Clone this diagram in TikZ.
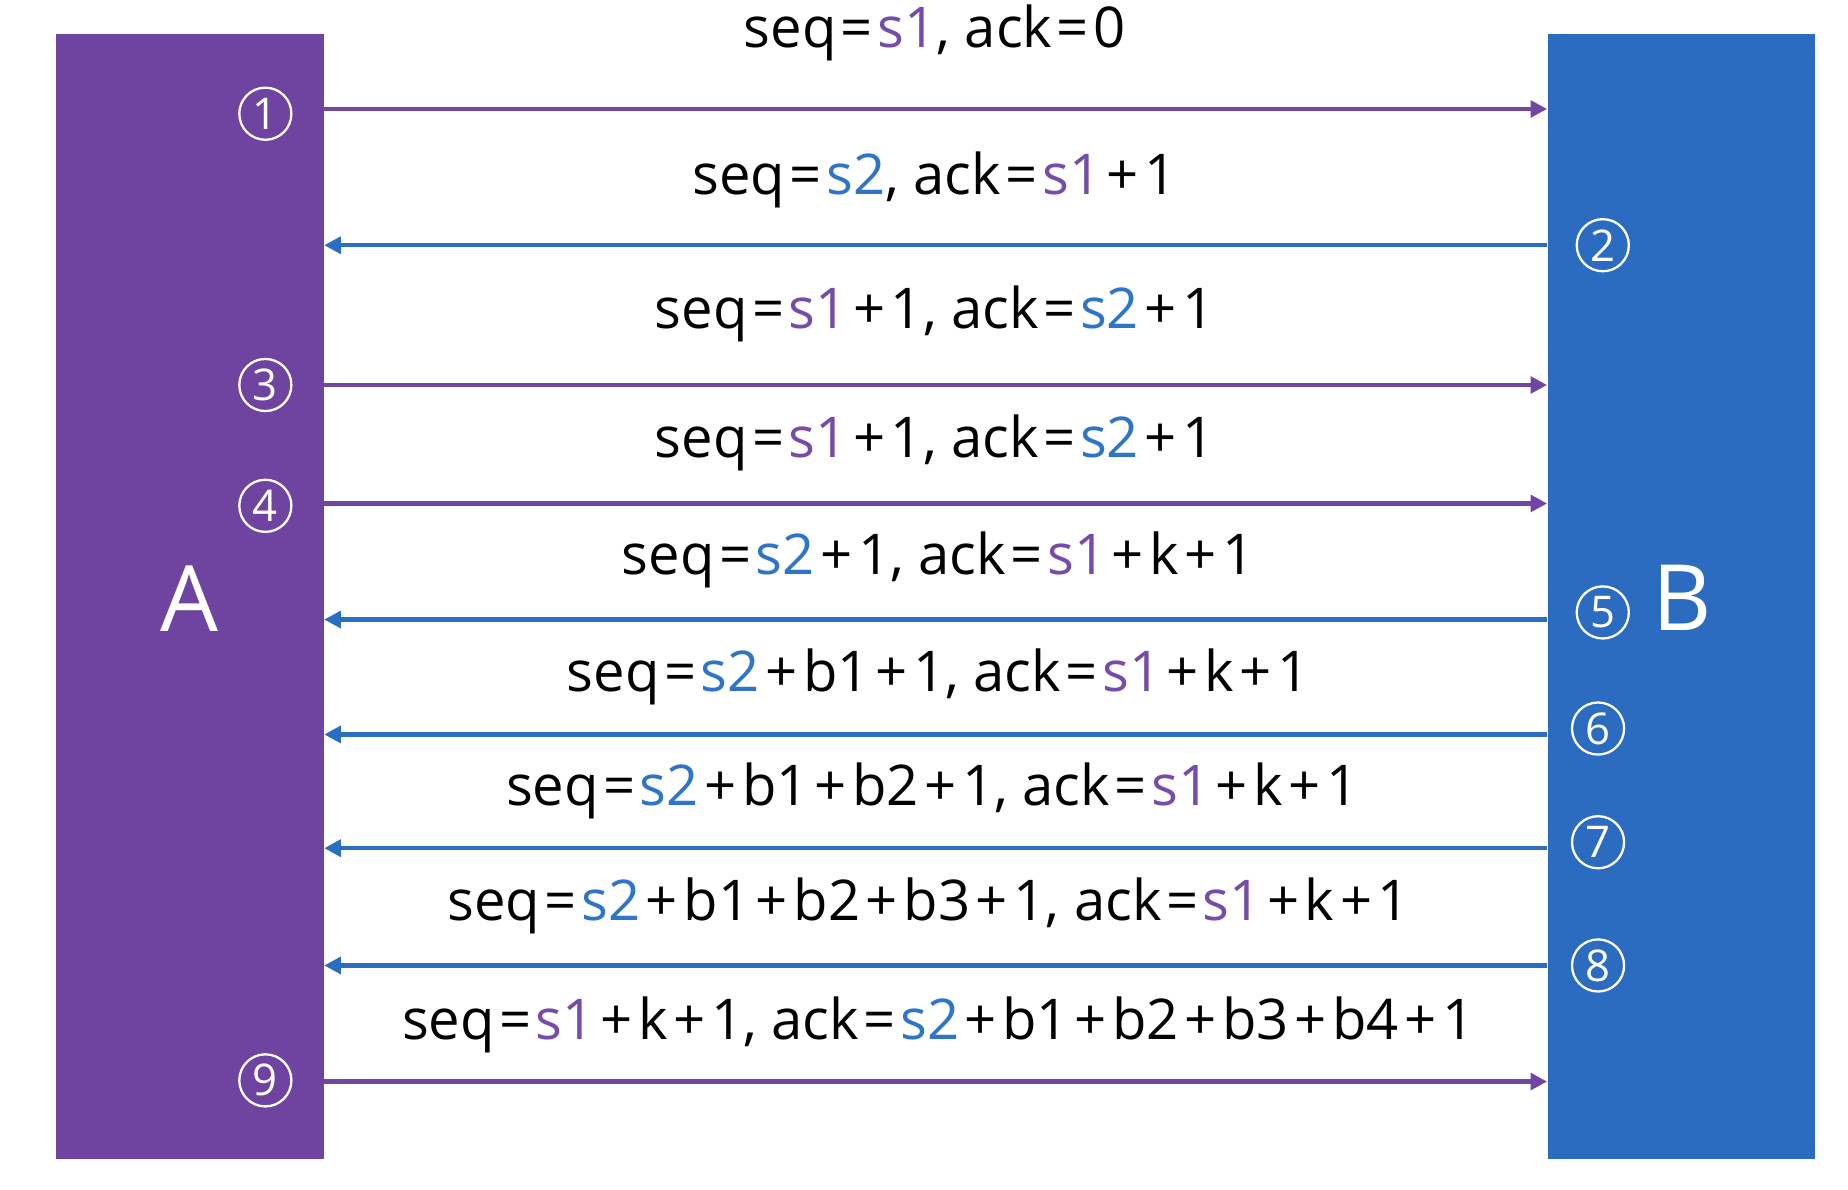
\documentclass[tikz,border=0pt]{standalone}
\usepackage{fontspec}
\setmainfont{Open Sans}
\usetikzlibrary{arrows.meta}
\definecolor{boxA}{RGB}{111,67,160}
\definecolor{boxB}{RGB}{43,108,192}
\definecolor{arrA}{RGB}{112,70,162}
\definecolor{arrB}{RGB}{40,110,195}
\definecolor{cone}{RGB}{118,76,170}
\definecolor{ctwo}{RGB}{46,117,200}
\newcommand\sone{\textcolor{cone}{s1}}
\newcommand\stwo{\textcolor{ctwo}{s2}}
\newcommand\pl{\kern.1em+\kern.1em}
\newcommand\eq{\kern.08em=\kern.08em}
\begin{document}
\begin{tikzpicture}[x=0.02cm,y=-0.02cm,
  host/.style={rectangle,inner sep=0pt,minimum width=4.52cm,minimum height=19cm,anchor=north west},
  msgA/.style={draw=arrA,line width=2pt,-{Triangle[length=0.28cm,width=0.28cm]}},
  msgB/.style={draw=arrB,line width=2pt,-{Triangle[length=0.28cm,width=0.28cm]}},
  lbl/.style={font=\fontsize{27}{32}\selectfont,text=black,inner sep=0pt},
  num/.style={circle,draw=white,line width=1.1pt,text=white,minimum size=0.88cm,inner sep=0pt,font=\fontsize{21}{22}\selectfont},
  big/.style={text=white,font=\fontsize{44}{48}\selectfont,inner sep=0pt}]
\useasboundingbox (0,0) rectangle (1560,1004.5);
\node[host,fill=boxA] (A) at (47,28) {};
\node[host,fill=boxB] (B) at (1306,28) {};
\node[big] (Al) at (160,505) {A};
\node[big] (Bl) at (1420,505) {B};
% message rows
\coordinate (r1) at (0,92);
\coordinate (r2) at (0,207);
\coordinate (r3) at (0,325);
\coordinate (r4) at (0,425);
\coordinate (r5) at (0,523);
\coordinate (r6) at (0,620);
\coordinate (r7) at (0,716);
\coordinate (r8) at (0,815);
\coordinate (r9) at (0,913);
\draw[msgA] (A.east |- r1) -- (B.west |- r1);
\draw[msgB] (B.west |- r2) -- (A.east |- r2);
\draw[msgA] (A.east |- r3) -- (B.west |- r3);
\draw[msgA] (A.east |- r4) -- (B.west |- r4);
\draw[msgB] (B.west |- r5) -- (A.east |- r5);
\draw[msgB] (B.west |- r6) -- (A.east |- r6);
\draw[msgB] (B.west |- r7) -- (A.east |- r7);
\draw[msgB] (B.west |- r8) -- (A.east |- r8);
\draw[msgA] (A.east |- r9) -- (B.west |- r9);
% labels
\node[lbl] (t1) at (789,28) {seq\eq\sone, ack\eq 0};
\node[lbl] (t2) at (789,152) {seq\eq\stwo, ack\eq\sone\pl 1};
\node[lbl] (t3) at (789,265) {seq\eq\sone\pl 1, ack\eq\stwo\pl 1};
\node[lbl] (t4) at (789,374) {seq\eq\sone\pl 1, ack\eq\stwo\pl 1};
\node[lbl] (t5) at (792,473) {seq\eq\stwo\pl 1, ack\eq\sone\pl k\pl 1};
\node[lbl] (t6) at (792,571) {seq\eq\stwo\pl b1\pl 1, ack\eq\sone\pl k\pl 1};
\node[lbl] (t7) at (787,668) {seq\eq\stwo\pl b1\pl b2\pl 1, ack\eq\sone\pl k\pl 1};
\node[lbl] (t8) at (784,765) {seq\eq\stwo\pl b1\pl b2\pl b3\pl 1, ack\eq\sone\pl k\pl 1};
\node[lbl] (t9) at (792,865) {seq\eq\sone\pl k\pl 1, ack\eq\stwo\pl b1\pl b2\pl b3\pl b4\pl 1};
% step numbers
\node[num] (n1) at (224,96) {1};
\node[num] (n3) at (224,325) {3};
\node[num] (n4) at (224,427) {4};
\node[num] (n9) at (224,912) {9};
\node[num] (n2) at (1353,207) {2};
\node[num] (n5) at (1353,517) {5};
\node[num] (n6) at (1349,615) {6};
\node[num] (n7) at (1349,711) {7};
\node[num] (n8) at (1349,815) {8};
\end{tikzpicture}
\end{document}
